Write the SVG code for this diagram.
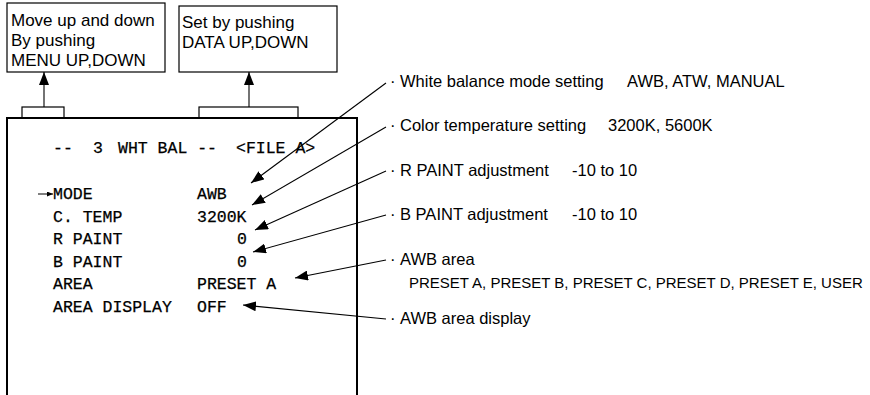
<svg xmlns="http://www.w3.org/2000/svg" width="870" height="395" viewBox="0 0 870 395">
<style>
.box{fill:#fff;stroke:#000;stroke-width:1.2}
.scr{fill:none;stroke:#000;stroke-width:2}
.lead{fill:none;stroke:#000;stroke-width:1.1}
.sans{font-family:"Liberation Sans",Arial,sans-serif;font-size:16.5px;fill:#000}
.small{font-size:15px}
.mono{font-family:"Liberation Mono","Courier New",monospace;font-size:16.5px;fill:#000;stroke:#000;stroke-width:0.25}
</style>
<defs>
<marker id="ah" markerUnits="userSpaceOnUse" markerWidth="14" markerHeight="10" refX="13" refY="5" orient="auto">
<path d="M0,0 L13,5 L0,10 Z" fill="#000"/>
</marker>
<marker id="ahs" markerUnits="userSpaceOnUse" markerWidth="6" markerHeight="5" refX="6" refY="2.5" orient="auto">
<path d="M0,0 L6,2.5 L0,5 Z" fill="#000"/>
</marker>
</defs>
<rect width="870" height="395" fill="#fff"/>

<g id="box-menu-updown">
<rect class="box" x="7" y="3" width="158" height="69"/>
<text class="sans" style="font-size:17px" x="11" y="26">Move up and down</text>
<text class="sans" style="font-size:17px" x="11" y="46">By pushing</text>
<text class="sans" style="font-size:17px" x="11" y="66">MENU UP,DOWN</text>
</g>
<g id="box-data-updown">
<rect class="box" x="179" y="6" width="158" height="66"/>
<text class="sans" style="font-size:17px" x="182" y="28">Set by pushing</text>
<text class="sans" style="font-size:17px" x="182" y="48">DATA UP,DOWN</text>
</g>

<g id="screen">
<rect class="box" x="22" y="107" width="42" height="11"/>
<rect class="box" x="199" y="107" width="99" height="11"/>
<path class="scr" d="M7,400 V118 H357 V400"/>
<text class="mono" y="153"><tspan x="53">--</tspan><tspan x="93">3</tspan><tspan x="118">WHT BAL --</tspan><tspan x="236">&lt;FILE A&gt;</tspan></text>
<text class="mono" x="53" y="199">MODE</text>
<text class="mono" x="197" y="199">AWB</text>
<text class="mono" x="53" y="221.5">C. TEMP</text>
<text class="mono" x="197" y="221.5">3200K</text>
<text class="mono" x="53" y="244">R PAINT</text>
<text class="mono" x="237" y="244">0</text>
<text class="mono" x="53" y="266.5">B PAINT</text>
<text class="mono" x="237" y="266.5">0</text>
<text class="mono" x="53" y="289">AREA</text>
<text class="mono" x="197" y="289">PRESET A</text>
<text class="mono" x="53" y="311.5">AREA DISPLAY</text>
<text class="mono" x="197" y="311.5">OFF</text>
<line x1="38" y1="194" x2="53" y2="194" stroke="#000" stroke-width="1" marker-end="url(#ahs)"/>
</g>

<g id="labels">
<text class="sans" x="390" y="87">·</text>
<text class="sans" x="400" y="87">White balance mode setting</text>
<text class="sans" x="627" y="87">AWB, ATW, MANUAL</text>
<text class="sans" x="390" y="131">·</text>
<text class="sans" x="400" y="131">Color temperature setting</text>
<text class="sans" x="608" y="131">3200K, 5600K</text>
<text class="sans" x="390" y="176">·</text>
<text class="sans" x="400" y="176">R PAINT adjustment</text>
<text class="sans" x="572" y="176">-10 to 10</text>
<text class="sans" x="390" y="220">·</text>
<text class="sans" x="400" y="220">B PAINT adjustment</text>
<text class="sans" x="572" y="220">-10 to 10</text>
<text class="sans" x="390" y="265">·</text>
<text class="sans" x="400" y="265">AWB area</text>
<text class="sans small" x="409" y="288">PRESET A, PRESET B, PRESET C, PRESET D, PRESET E, USER</text>
<text class="sans" x="390" y="324">·</text>
<text class="sans" x="400" y="324">AWB area display</text>
</g>

<g id="connectors">
<line class="lead" x1="44" y1="107" x2="44" y2="72" marker-end="url(#ah)"/>
<line class="lead" x1="249" y1="107" x2="249" y2="72" marker-end="url(#ah)"/>
<line class="lead" x1="386" y1="83" x2="251" y2="183" marker-end="url(#ah)"/>
<line class="lead" x1="386" y1="127" x2="252" y2="205" marker-end="url(#ah)"/>
<line class="lead" x1="386" y1="171" x2="255" y2="230" marker-end="url(#ah)"/>
<line class="lead" x1="386" y1="215" x2="253" y2="252" marker-end="url(#ah)"/>
<line class="lead" x1="386" y1="260" x2="295" y2="278" marker-end="url(#ah)"/>
<line class="lead" x1="386" y1="319" x2="243" y2="305" marker-end="url(#ah)"/>
</g>
</svg>
